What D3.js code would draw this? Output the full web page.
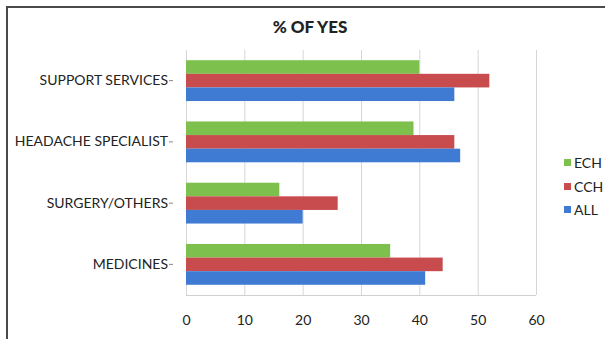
<!DOCTYPE html>
<html>
<head>
<meta charset="utf-8">
<script src="https://cdn.jsdelivr.net/npm/d3@7"></script>
<style>
  html, body { margin: 0; padding: 0; background: #fff; }
  svg { display: block; }
  text { font-family: Lato, "Open Sans", sans-serif; fill: #222; }
</style>
</head>
<body>
<svg id="chart" width="605" height="339"></svg>
<script>
// Categories, top to bottom
const categories = ["SUPPORT SERVICES", "HEADACHE SPECIALIST", "SURGERY/OTHERS", "MEDICINES"];
// Series, drawn top to bottom inside each category
const seriesNames = ["ECH", "CCH", "ALL"];
const echValues = [40, 39, 16, 35];
const cchValues = [52, 46, 26, 44];
const allValues = [46, 47, 20, 41];
const xTicks = [0, 10, 20, 30, 40, 50, 60];
const colors = { ECH: "#7dc04e", CCH: "#c84b4e", ALL: "#3f7bd2" };
const chartTitle = "% OF YES";

const rows = categories.map((c, i) => ({
  category: c,
  values: [
    { key: "ECH", value: echValues[i] },
    { key: "CCH", value: cchValues[i] },
    { key: "ALL", value: allValues[i] }
  ]
}));

const svg = d3.select("#chart");
const plot = { left: 186, right: 536, top: 50, bottom: 295 };

// Outer frame (left and top edges)
svg.append("path")
  .attr("d", "M7,339 V7 H605")
  .attr("fill", "none")
  .attr("stroke", "#4a4a4a")
  .attr("stroke-width", 2);

const x = d3.scaleLinear().domain([0, 60]).range([plot.left, plot.right]);
const y = d3.scaleBand().domain(categories).range([plot.top, plot.bottom]).paddingInner(0).paddingOuter(0);
// 150% gap width: each group is three bars plus 1.5 bars of spacing
const inner = d3.scaleBand().domain(seriesNames)
  .range([0, y.bandwidth()]).paddingInner(0).paddingOuter(0.75);

// Vertical gridlines
svg.append("g")
  .selectAll("line")
  .data(xTicks)
  .join("line")
  .attr("x1", d => x(d) + 0.5).attr("x2", d => x(d) + 0.5)
  .attr("y1", plot.top).attr("y2", plot.bottom)
  .attr("stroke", "#d6d6d6")
  .attr("stroke-width", 1);

// Bottom edge of plot area
svg.append("line")
  .attr("x1", plot.left).attr("x2", plot.right)
  .attr("y1", plot.bottom + 0.5).attr("y2", plot.bottom + 0.5)
  .attr("stroke", "#d0d0d0");

// Bars
const groups = svg.append("g")
  .selectAll("g")
  .data(rows)
  .join("g")
  .attr("transform", d => `translate(0,${y(d.category)})`);

groups.selectAll("rect")
  .data(d => d.values)
  .join("rect")
  .attr("x", x(0))
  .attr("y", d => inner(d.key))
  .attr("width", d => x(d.value) - x(0))
  .attr("height", inner.bandwidth())
  .attr("fill", d => colors[d.key]);

// Category axis: short tick dash sits just after each label
const yAxis = d3.axisLeft(y).tickSize(0).tickPadding(18);
const ya = svg.append("g")
  .attr("transform", `translate(${plot.left},0)`)
  .call(yAxis);
ya.select(".domain").remove();
ya.selectAll(".tick line")
  .attr("x1", -17).attr("x2", -13)
  .attr("stroke", "#888");
ya.selectAll("text")
  .style("font-size", "14px")
  .style("font-family", "Lato, sans-serif")
  .attr("fill", "#222");

// Value axis
const xAxis = d3.axisBottom(x).tickValues(xTicks).tickSize(0).tickPadding(20);
const xa = svg.append("g")
  .attr("transform", `translate(0,${plot.bottom})`)
  .call(xAxis);
xa.select(".domain").remove();
xa.selectAll("text")
  .style("font-size", "14px")
  .style("font-family", "Lato, sans-serif")
  .attr("fill", "#222");

// Title
svg.append("text")
  .attr("x", 310).attr("y", 33)
  .attr("text-anchor", "middle")
  .style("font-size", "17px")
  .style("font-weight", "900")
  .text(chartTitle);

// Legend
const legendY = [163, 187, 210];
const legend = svg.append("g")
  .selectAll("g")
  .data(seriesNames)
  .join("g")
  .attr("transform", (d, i) => `translate(564,${legendY[i]})`);
legend.append("rect")
  .attr("x", 0).attr("y", -4)
  .attr("width", 7).attr("height", 7)
  .attr("fill", d => colors[d]);
legend.append("text")
  .attr("x", 10).attr("y", 0)
  .attr("dy", "0.35em")
  .style("font-size", "14px")
  .text(d => d);
</script>
</body>
</html>
